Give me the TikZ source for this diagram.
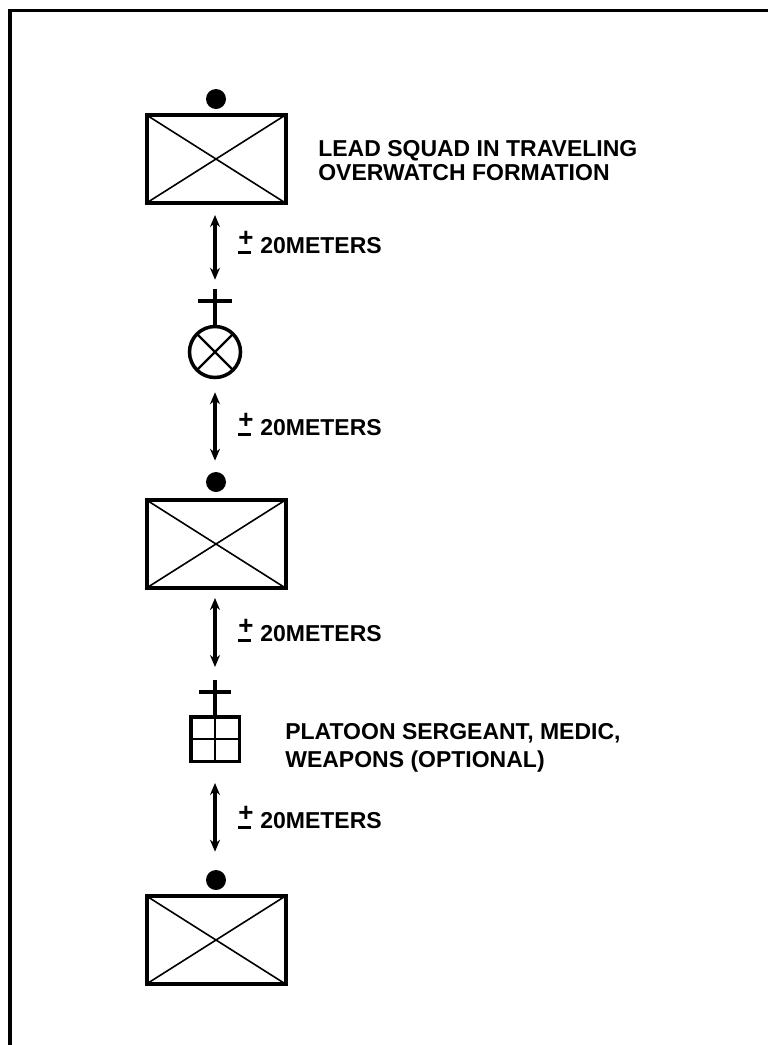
\documentclass[tikz,border=0pt]{standalone}
\usepackage{fontspec}
\setmainfont{Liberation Sans}
\usetikzlibrary{arrows.meta,positioning}

\newcommand\pmsign{\makebox[14pt][l]{\rlap{\raisebox{7pt}{\fontsize{26}{26}\selectfont +}}\rule[-0.5pt]{13pt}{2.8pt}}}

\begin{document}
\begin{tikzpicture}[x=1pt,y=-1pt,>={Stealth[length=12pt,width=10pt]},semithick,
                    font=\fontsize{23}{23.5}\selectfont\bfseries]
	  \tikzstyle{squad}=[draw,line width=4pt,minimum width=139pt,minimum height=88pt,inner sep=0pt,
	    path picture={\draw[line width=1.6pt] (path picture bounding box.north west) -- (path picture bounding box.south east)
	                   (path picture bounding box.south west) -- (path picture bounding box.north east);}]
	  \tikzstyle{leader}=[draw,circle,line width=3.5pt,minimum size=51pt,inner sep=0pt,
	    path picture={\draw[line width=2.4pt] (path picture bounding box.north west) -- (path picture bounding box.south east)
	                   (path picture bounding box.south west) -- (path picture bounding box.north east);}]
	  \tikzstyle{psgbox}=[draw,line width=3.5pt,minimum width=48.5pt,minimum height=44.5pt,inner sep=0pt,
	    path picture={\draw[line width=2pt] (path picture bounding box.north) -- (path picture bounding box.south)
	                   (path picture bounding box.west) -- (path picture bounding box.east);}]
	  \tikzstyle{dot}=[circle,fill=black,minimum size=20pt,inner sep=0pt]
	  \tikzstyle{distarrow}=[<->,line width=3.2pt]
	  \tikzstyle{note}=[anchor=base west,inner sep=0pt,align=left]
	  \tikzstyle{cross}=[line width=3.8pt]

	  \useasboundingbox (0,0) rectangle (768,1045);
	  \fill[white] (0,0) rectangle (768,1045);
	  \draw[line width=3.5pt] (768,10.5) -- (10,10.5) -- (10,1045);

	  % squads and leaders
	  \node[squad] (sq1) at (216,159) {};
	  \node[dot]   (d1)  at (216,99)  {};
	  \node[leader] (pl) at (215,352) {};
	  \node[dot]   (d2)  at (216,482) {};
	  \node[squad] (sq2) at (216,544) {};
	  \node[psgbox] (psg) at (215,739) {};
	  \node[dot]   (d3)  at (216,880) {};
	  \node[squad] (sq3) at (216,940) {};

	  \draw[cross] (pl.north) -- ++(0,-36) coordinate (pltop);
	  \draw[cross] ([shift={(-17,12)}]pltop) -- ++(34,0);
	  \draw[cross] (psg.north) -- ++(0,-35) coordinate (psgtop);
	  \draw[cross] ([shift={(-16,12)}]psgtop) -- ++(32,0);

	  % distances
	  \draw[distarrow, shorten <=10pt, shorten >=9pt]  (sq1.south -| pltop) -- (pltop);
	  \draw[distarrow, shorten <=13pt, shorten >=11pt] (pl.south) -- (d2.north -| pl.south);
	  \draw[distarrow, shorten <=8pt, shorten >=13pt]  (sq2.south -| psgtop) -- (psgtop);
	  \draw[distarrow, shorten <=20pt, shorten >=18pt] (psg.south) -- (d3.north -| psg.south);

	  \node[note] (m1) at (238,253) {\pmsign\hspace{8pt}20METERS};
	  \node[note] (m2) at (238,435) {\pmsign\hspace{8pt}20METERS};
	  \node[note] (m3) at (238,641) {\pmsign\hspace{8pt}20METERS};
	  \node[note] (m4) at (238,828) {\pmsign\hspace{8pt}20METERS};

	  \node[note] (lead) at (318,180) {LEAD SQUAD IN TRAVELING\\OVERWATCH FORMATION};
	  \node[note,font=\fontsize{23}{28}\selectfont\bfseries] (psgtxt) at (285,767)
	        {PLATOON SERGEANT, MEDIC,\\WEAPONS (OPTIONAL)};
\end{tikzpicture}
\end{document}
